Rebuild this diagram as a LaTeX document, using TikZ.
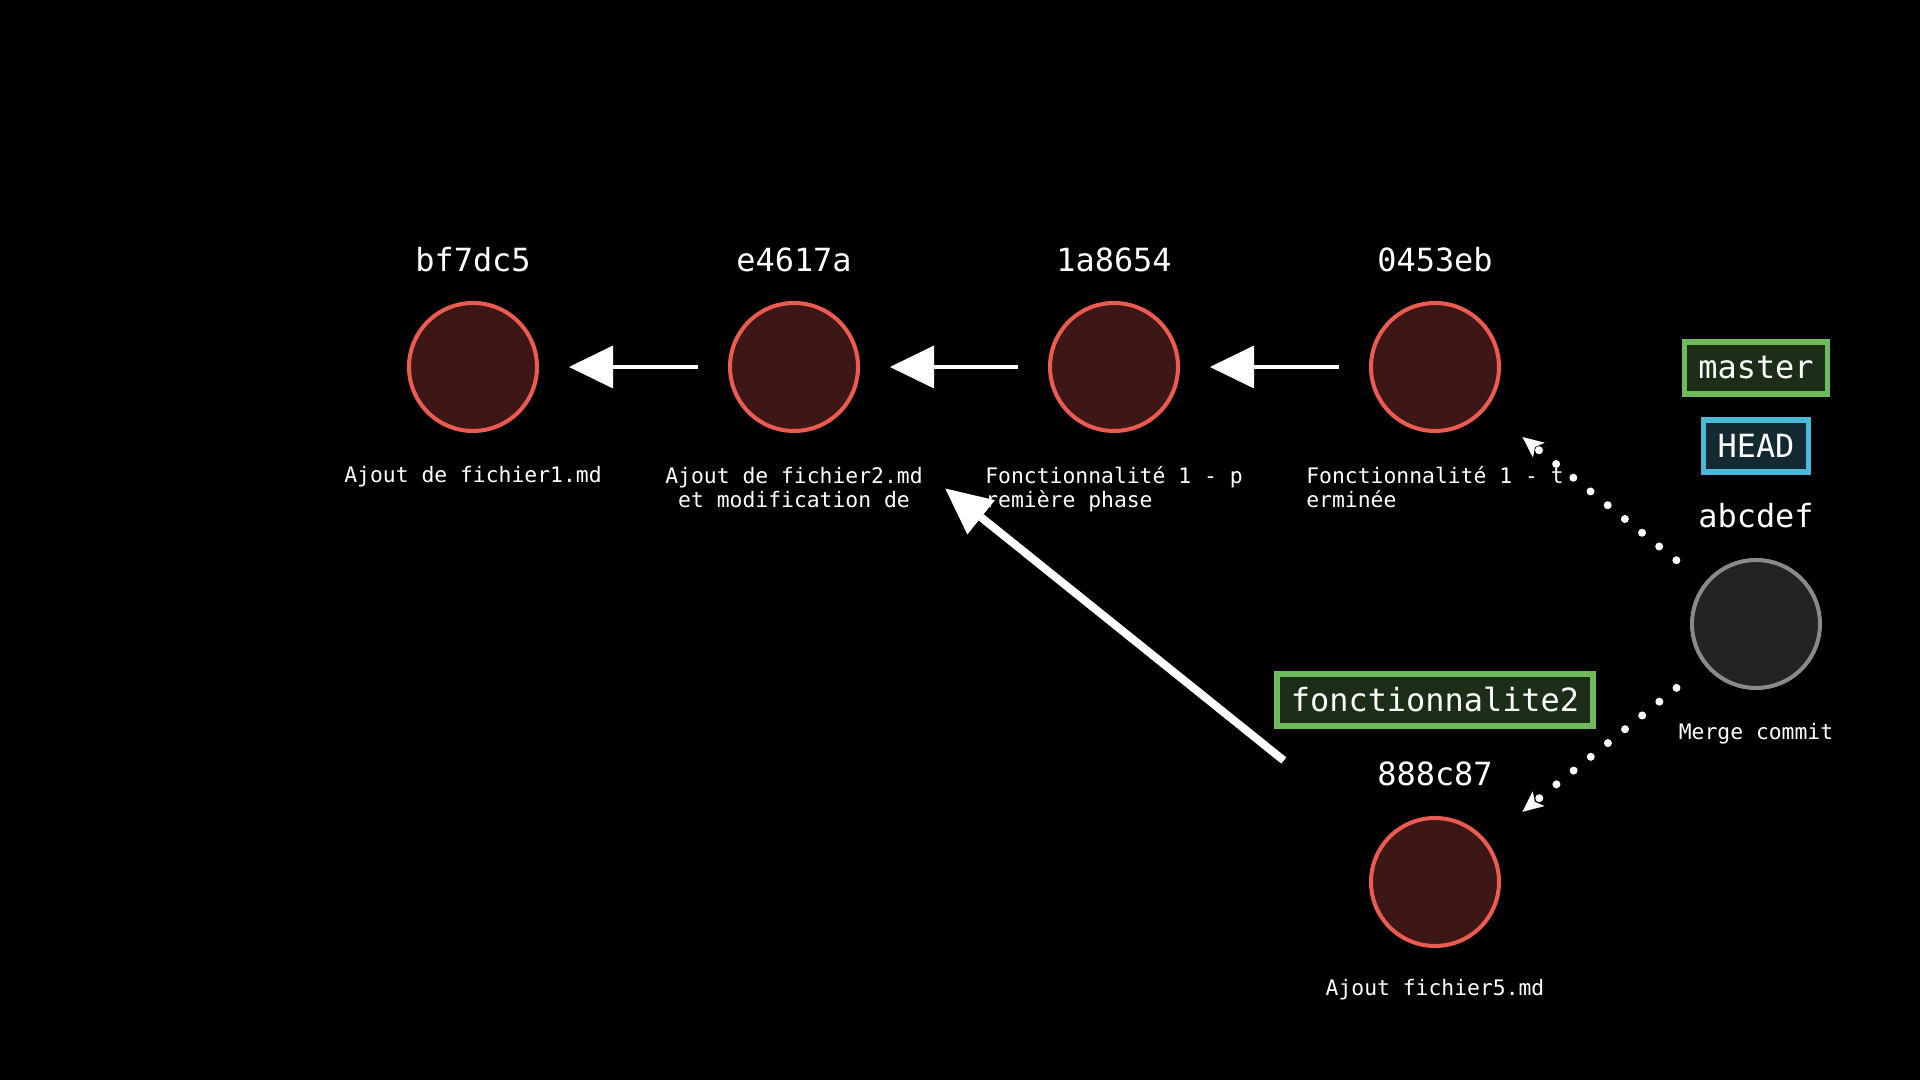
\documentclass[tikz,border=0pt]{standalone}
\usepackage{fontspec}
\setmainfont{DejaVu Sans Mono}
\usetikzlibrary{arrows.meta}
\definecolor{CommitRed}{HTML}{EC5B50}
\definecolor{CommitFill}{HTML}{3D1616}
\definecolor{MergeGray}{HTML}{8A8A8A}
\definecolor{MergeFill}{HTML}{232323}
\definecolor{BranchGreen}{HTML}{6FBA5A}
\definecolor{BranchFill}{HTML}{1C2E18}
\definecolor{HeadBlue}{HTML}{4CB8D6}
\definecolor{HeadFill}{HTML}{142A33}

\begin{document}
\begin{tikzpicture}[
  commit/.style={circle, draw=CommitRed, fill=CommitFill, line width=1.15pt, minimum size=1.28cm, inner sep=0pt},
  mergecommit/.style={commit, draw=MergeGray, fill=MergeFill},
  sha/.style={text=white, anchor=base, inner sep=0pt, font=\fontsize{9.08}{11}\selectfont},
  msg/.style={text=white, anchor=base, inner sep=0pt, font=\fontsize{6.08}{6.95}\selectfont},
  branch/.style={draw=BranchGreen, fill=BranchFill, line width=1.5pt, text=white, inner xsep=0.14cm, inner ysep=0pt, minimum height=0.52cm, font=\fontsize{9.08}{11}\selectfont},
  headref/.style={branch, draw=HeadBlue, fill=HeadFill},
  parentarrow/.style={-{Triangle[length=0.44cm, width=0.43cm, line width=0pt]}, white, line width=1.14pt, shorten <=0.30cm, shorten >=0.30cm},
  mergearrow/.style={-{Triangle[length=0.46cm, width=0.44cm, line width=0pt]}, white, line width=2.28pt, shorten <=1.28cm, shorten >=1.28cm},
  mergedots/.style={-{Stealth[length=0.21cm, width=0.19cm, inset=0.05cm, line width=0pt]}, white, line width=0.08cm, line cap=round, dash pattern=on 0pt off 0.22cm, shorten <=0.36cm, shorten >=0.46cm}]
\fill[black] (0,0) rectangle (19.2,10.8);
\node[commit] (c1) at (4.73,7.13) {};
\node[commit] (c2) at (7.94,7.13) {};
\node[commit] (c3) at (11.14,7.13) {};
\node[commit] (c4) at (14.35,7.13) {};
\node[commit] (c5) at (14.35,1.98) {};
\node[mergecommit] (m) at (17.56,4.56) {};
\node[sha] (s1) at (4.73,8.08) {bf7dc5};
\node[sha] (s2) at (7.94,8.08) {e4617a};
\node[sha] (s3) at (11.14,8.08) {1a8654};
\node[sha] (s4) at (14.35,8.08) {0453eb};
\node[sha] (s5) at (14.35,2.94) {888c87};
\node[sha] (sm) at (17.56,5.52) {abcdef};
\node[msg] (t1) at (4.73,5.97) {Ajout de fichier1.md};
\node[msg, align=center] (t2) at (7.94,5.725) {Ajout de fichier2.md\\et modification de};
\node[msg, align=left] (t3) at (11.14,5.725) {Fonctionnalité 1 - p\\remière phase};
\node[msg, align=left] (t4) at (14.35,5.725) {Fonctionnalité 1 - t\\erminée};
\node[msg] (t5) at (14.35,0.84) {Ajout fichier5.md};
\node[msg] (tm) at (17.56,3.40) {Merge commit};
\node[branch] (master) at (17.56,7.12) {master};
\node[headref] (head) at (17.56,6.34) {HEAD};
\node[branch] (feat) at (14.35,3.80) {fonctionnalite2};
\draw[parentarrow] (c2) -- (c1);
\draw[parentarrow] (c3) -- (c2);
\draw[parentarrow] (c4) -- (c3);
\draw[mergearrow] (c5) -- (c2);
\draw[mergedots] (m) -- (c4);
\draw[mergedots] (m) -- (c5);
\end{tikzpicture}
\end{document}
